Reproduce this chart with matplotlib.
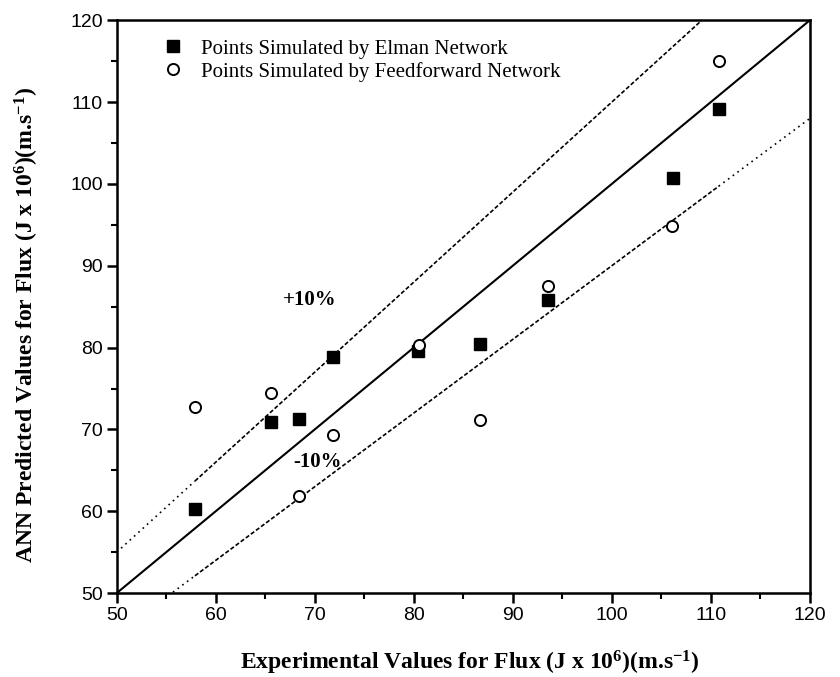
import matplotlib.pyplot as plt
import numpy as np

# Elman network points (experimental, predicted)
elman_x = [57.9, 65.6, 68.4, 71.8, 80.4, 86.7, 93.6, 106.2, 110.8]
elman_y = [60.3, 70.9, 71.3, 78.8, 79.6, 80.5, 85.8, 100.7, 109.1]

# Feedforward network points
ff_x = [57.9, 65.6, 68.4, 71.8, 80.5, 86.7, 93.6, 106.1, 110.8]
ff_y = [72.8, 74.5, 61.9, 69.3, 80.3, 71.2, 87.5, 94.8, 115.0]

ticks = [50, 60, 70, 80, 90, 100, 110, 120]
band = 0.10
data_lo, data_hi = 57.9, 110.8

plt.rcParams['mathtext.fontset'] = 'custom'
plt.rcParams['mathtext.bf'] = 'Liberation Serif:bold'
plt.rcParams['mathtext.rm'] = 'Liberation Serif'
plt.rcParams['mathtext.it'] = 'Liberation Serif:italic'


def main():
    fig = plt.figure(figsize=(8.4, 6.77), dpi=100)
    ax = fig.add_axes([0.139, 0.124, 0.825, 0.846])

    serif = "Liberation Serif"
    sans = "Liberation Sans"

    # perfect agreement line
    xs = np.array([50, 120])
    ax.plot(xs, xs, '-', color='black', linewidth=1.5, zorder=2)

    # +/- 10% lines: dashed over the data range, dotted beyond
    for f in (1 + band, 1 - band):
        xin = np.array([data_lo, data_hi])
        ax.plot(xin, f * xin, color='black', linewidth=1.2, linestyle=(0, (2.5, 1.3)), zorder=2)
        left = np.array([50, data_lo])
        right = np.array([data_hi, 120])
        ax.plot(left, f * left, color='black', linewidth=1.2, linestyle=(0, (1, 2.5)), zorder=2)
        ax.plot(right, f * right, color='black', linewidth=1.2, linestyle=(0, (1, 2.5)), zorder=2)

    ax.plot(elman_x, elman_y, 's', color='black', markersize=8, linestyle='none',
            label="Points Simulated by Elman Network", zorder=3)
    ax.plot(ff_x, ff_y, 'o', markerfacecolor='white', markeredgecolor='black',
            markeredgewidth=1.4, markersize=8, linestyle='none',
            label="Points Simulated by Feedforward Network", zorder=3)

    ax.text(69.5, 85.8, "+10%", fontfamily=serif, fontweight='bold', fontsize=15,
            ha='center', va='center')
    ax.text(70.3, 66.0, "-10%", fontfamily=serif, fontweight='bold', fontsize=15,
            ha='center', va='center')

    ax.set_xlim(50, 120)
    ax.set_ylim(50, 120)
    ax.set_xticks(ticks)
    ax.set_yticks(ticks)
    ax.set_xticks(np.arange(55, 120, 10), minor=True)
    ax.set_yticks(np.arange(55, 120, 10), minor=True)
    ax.tick_params(which='major', direction='out', length=7, width=1.8, labelsize=14, pad=3)
    ax.tick_params(which='minor', direction='out', length=4.5, width=1.5)
    for lab in ax.get_xticklabels() + ax.get_yticklabels():
        lab.set_fontfamily(sans)
    for sp in ax.spines.values():
        sp.set_linewidth(1.8)

    ax.set_xlabel(r"Experimental Values for Flux (J x 10$^{\mathbf{6}}$)(m.s$^{\mathbf{-1}}$)",
                  fontfamily=serif, fontweight='bold', fontsize=17)
    ax.set_ylabel(r"ANN Predicted Values for Flux (J x 10$^{\mathbf{6}}$)(m.s$^{\mathbf{-1}}$)",
                  fontfamily=serif, fontweight='bold', fontsize=17)
    ax.xaxis.set_label_coords(0.51, -0.097)
    ax.yaxis.set_label_coords(-0.11, 0.468)

    ax.legend(loc='upper left', frameon=False, prop={'family': serif, 'size': 15},
              handletextpad=0.35, borderaxespad=0.0, labelspacing=0.15,
              bbox_to_anchor=(0.039, 0.982))

    fig.savefig("out.png", dpi=100)
    plt.close(fig)


if __name__ == "__main__":
    main()
